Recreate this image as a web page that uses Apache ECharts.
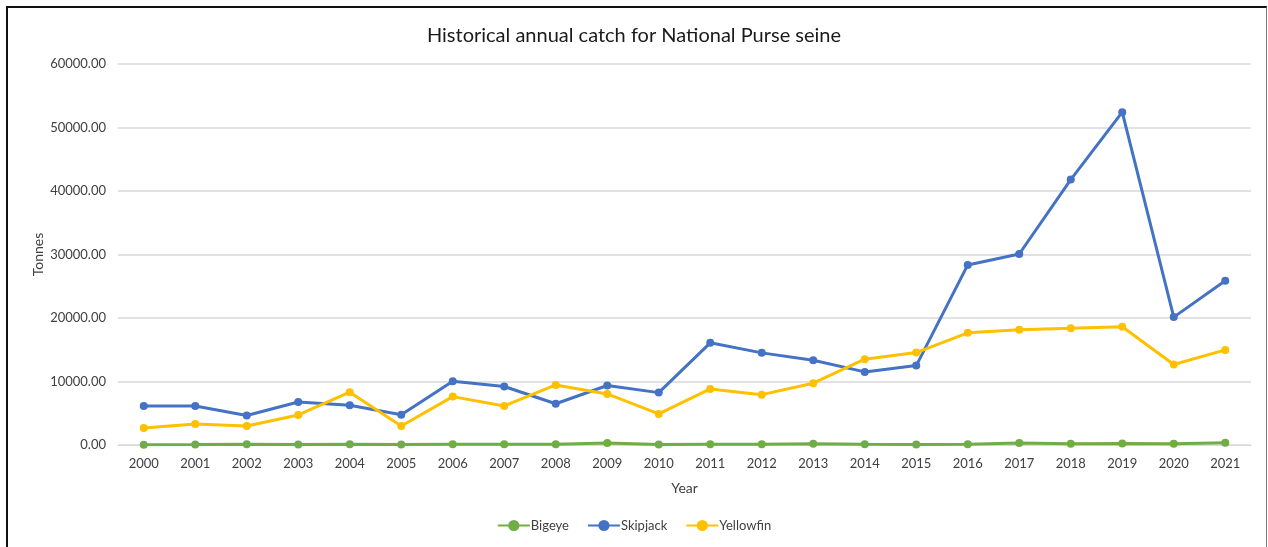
<!DOCTYPE html>
<html>
<head>
<meta charset="utf-8">
<script src="https://cdn.jsdelivr.net/npm/echarts@6/dist/echarts.min.js"></script>
<style>
html, body { margin: 0; padding: 0; background: #fff; }
#frame {
    position: absolute; left: 6px; top: 6px; width: 1258px; height: 560px;
    border-left: 2px solid #111; border-top: 2px solid #111; border-right: 1px solid #777;
}
#chart { position: absolute; left: 0; top: 0; width: 1268px; height: 547px; }
</style>
</head>
<body>
<div id="frame"></div>
<div id="chart"></div>
<script>
// years on the x axis
const years = ['2000','2001','2002','2003','2004','2005','2006','2007','2008','2009','2010',
    '2011','2012','2013','2014','2015','2016','2017','2018','2019','2020','2021'];

// annual catch in tonnes
const bigeye = [50, 60, 120, 80, 130, 70, 120, 110, 120, 330, 90,
    110, 120, 200, 120, 60, 110, 320, 200, 250, 180, 350];
const skipjack = [6150, 6150, 4650, 6780, 6250, 4750, 10030, 9210, 6500, 9370, 8250,
    16090, 14510, 13360, 11510, 12510, 28360, 30080, 41800, 52410, 20140, 25870];
const yellowfin = [2680, 3310, 3000, 4730, 8310, 3000, 7620, 6150, 9460, 8040, 4890,
    8830, 7930, 9730, 13510, 14560, 17670, 18140, 18400, 18610, 12670, 14980];

const yTicks = { min: 0, max: 60000, step: 10000 };

let chartDom = document.getElementById('chart')
let myChart = echarts.init(chartDom)

const font = 'Lato, "Open Sans", sans-serif'

function lineSeries(name, data, color) {
    return {
        name: name,
        type: 'line',
        data: data,
        symbol: 'circle',
        symbolSize: 8,
        lineStyle: { width: 3, color: color },
        itemStyle: { color: color },
        emphasis: { disabled: true },
        animation: false
    }
}

let option = {
    backgroundColor: 'transparent',
    textStyle: { fontFamily: font },
    title: {
        text: 'Historical annual catch for National Purse seine',
        left: 'center',
        top: 21,
        textStyle: { fontFamily: font, fontSize: 20, fontWeight: 'normal', color: '#1a1a1a' }
    },
    legend: {
        bottom: 10,
        left: 'center',
        itemWidth: 32,
        itemHeight: 14,
        itemGap: 18,
        textStyle: { fontFamily: font, fontSize: 13, color: '#404040', padding: [0, 0, 0, -4] },
        data: ['Bigeye', 'Skipjack', 'Yellowfin']
    },
    grid: { left: 118, right: 17, top: 64, bottom: 102, containLabel: false },
    xAxis: {
        type: 'category',
        data: years,
        name: 'Year',
        nameLocation: 'middle',
        nameGap: 36,
        nameMoveOverlap: false,
        nameTextStyle: { fontFamily: font, fontSize: 14, color: '#404040' },
        axisTick: { show: false },
        axisLine: { lineStyle: { color: '#d9d9d9', width: 1 } },
        axisLabel: { fontFamily: font, fontSize: 13, color: '#404040', margin: 12 }
    },
    yAxis: {
        type: 'value',
        min: yTicks.min,
        max: yTicks.max,
        interval: yTicks.step,
        name: 'Tonnes',
        nameLocation: 'middle',
        nameGap: 73,
        nameMoveOverlap: false,
        nameTextStyle: { fontFamily: font, fontSize: 14, color: '#404040' },
        axisLine: { show: false },
        axisTick: { show: false },
        splitLine: { lineStyle: { color: '#d9d9d9', width: 1.5 } },
        axisLabel: {
            fontFamily: font, fontSize: 13, color: '#404040', margin: 12,
            formatter: v => v.toFixed(2)
        }
    },
    series: [
        lineSeries('Bigeye', bigeye, '#70ad47'),
        lineSeries('Skipjack', skipjack, '#4472c4'),
        lineSeries('Yellowfin', yellowfin, '#ffc000')
    ]
};
myChart.setOption(option);
</script>
</body>
</html>
